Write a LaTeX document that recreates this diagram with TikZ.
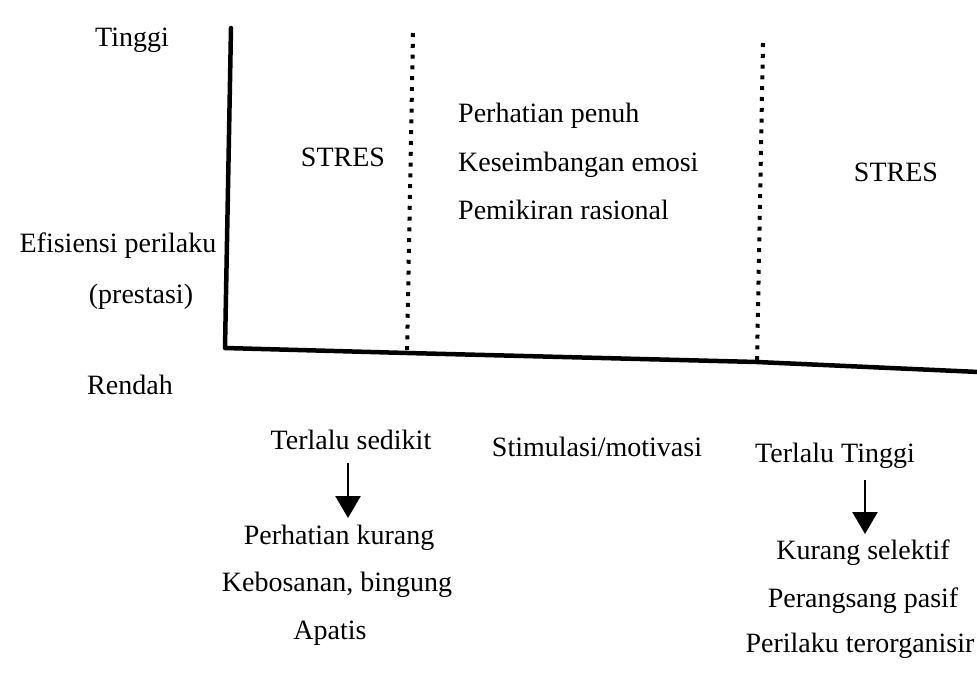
\documentclass[tikz,border=0pt]{standalone}
\usepackage{fontspec}
\setmainfont{Liberation Serif}
\usetikzlibrary{arrows.meta}
\begin{document}
\begin{tikzpicture}[x=1pt,y=-1pt,
  lbl/.style={inner sep=0pt,anchor=base,font=\fontsize{28}{32}\selectfont},
  lbll/.style={lbl,anchor=base west},
  axisline/.style={line width=4.5pt,line cap=round,line join=round},
  dotline/.style={line width=4pt,dash pattern=on 4pt off 6.8pt},
  downarrow/.style={line width=2.4pt,-{Triangle[width=25pt,length=22pt]}}]
\useasboundingbox (0,0) rectangle (977,685);
\fill[white] (0,0) rectangle (977,685);
% axes
\coordinate (ytop) at (231,28);
\coordinate (orig) at (225,348);
\coordinate (d1b) at (407,353);
\coordinate (d2b) at (757,362);
\coordinate (xend) at (979,372);
\draw[axisline] (ytop) -- (orig) -- (d1b) -- (d2b) -- (xend);
% dotted separators
\coordinate (d1t) at (413,33);
\coordinate (d2t) at (763,43);
\draw[dotline] (d1t) -- (d1b);
\draw[dotline] (d2t) -- (d2b);
% left labels
\node[lbl] (tinggi) at (132,47) {Tinggi};
\node[lbl] (efis) at (118,252) {Efisiensi perilaku};
\node[lbl] (prest) at (141,303) {(prestasi)};
\node[lbl] (rendah) at (130,394) {Rendah};
% chart region labels
\node[lbl] (stres1) at (343,166) {STRES};
\node[lbll] (p1) at (458,122) {Perhatian penuh};
\node[lbll] (p2) at (458,171) {Keseimbangan emosi};
\node[lbll] (p3) at (458,219) {Pemikiran rasional};
\node[lbl] (stres2) at (896,181) {STRES};
% below axis
\node[lbl] (ts) at (351,449) {Terlalu sedikit};
\node[lbl] (pk) at (339,544) {Perhatian kurang};
\node[lbl] (kb) at (337,591) {Kebosanan, bingung};
\node[lbl] (ap) at (330,639) {Apatis};
\node[lbl] (sm) at (597,456) {Stimulasi/motivasi};
\node[lbl] (tt) at (835,462) {Terlalu Tinggi};
\node[lbl] (ks) at (863,559) {Kurang selektif};
\node[lbl] (pp) at (863,607) {Perangsang pasif};
\node[lbl] (pt) at (860,652) {Perilaku terorganisir};
% arrows
\coordinate (a1s) at (348,463);
\coordinate (a1e) at (348,518);
\coordinate (a2s) at (865,480);
\coordinate (a2e) at (865,534);
\draw[downarrow] (a1s) -- (a1e);
\draw[downarrow] (a2s) -- (a2e);
\end{tikzpicture}
\end{document}
